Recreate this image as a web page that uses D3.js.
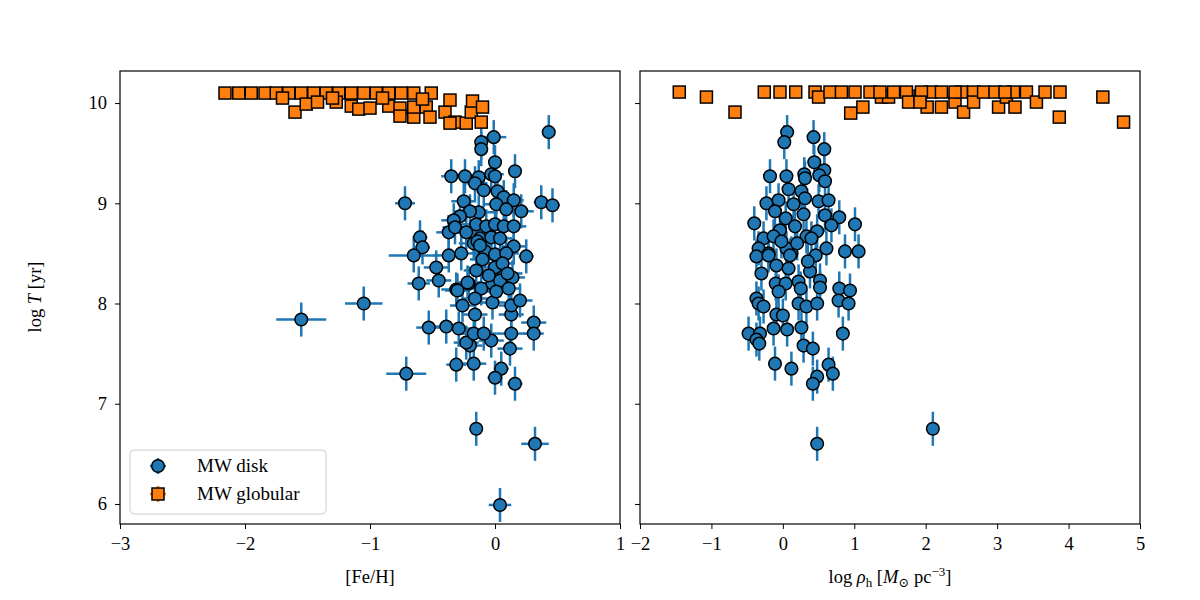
<!DOCTYPE html>
<html>
<head>
<meta charset="utf-8">
<script src="https://cdn.jsdelivr.net/npm/d3@7"></script>
<style>
  body { margin: 0; background: #fff; }
  text { font-family: "Liberation Serif", "DejaVu Serif", serif; }
</style>
</head>
<body>
<svg id="chart" width="1200" height="600"></svg>
<script>
// MW disk clusters: [Fe/H], log T, [Fe/H] error
var diskFeH = [
  [-1.55,7.84,0.2],[-1.05,8.00,0.15],[-0.71,7.30,0.16],[-0.72,9.00,0.08],
  [-0.61,8.20,0.09],[-0.45,8.23,0.1],[-0.53,7.76,0.1],[-0.39,7.77,0.1],
  [-0.29,7.75,0.1],[-0.31,7.39,0.08],[-0.17,7.40,0.1],[-0.20,7.58,0.1],
  [-0.23,7.61,0.1],[-0.03,7.63,0.1],[-0.16,7.89,0.1],[-0.17,7.70,0.12],
  [-0.09,7.70,0.1],[-0.26,7.98,0.1],[-0.31,8.14,0.12],[-0.21,8.20,0.1],
  [-0.11,8.15,0.1],[-0.02,8.01,0.1],[0.05,7.35,0.06],[0.00,7.26,0.06],
  [0.16,7.20,0.06],[0.12,7.55,0.1],[0.13,7.70,0.12],[0.13,7.89,0.1],
  [0.13,7.98,0.1],[0.20,8.03,0.1],[0.31,7.81,0.1],[0.31,7.70,0.08],
  [-0.15,6.75,0.04],[0.32,6.60,0.11],[0.04,5.99,0.09],[-0.02,8.20,0.1],
  [0.04,8.23,0.1],[0.14,8.26,0.1],[-0.16,8.05,0.1],[0.43,9.71,0.03],
  [-0.01,9.66,0.1],[-0.11,9.61,0.05],[-0.11,9.54,0.05],[0.00,9.41,0.05],
  [0.16,9.32,0.05],[-0.35,9.27,0.08],[-0.24,9.27,0.08],[-0.13,9.26,0.08],
  [-0.03,9.29,0.1],[0.00,9.27,0.05],[-0.16,9.20,0.1],[-0.09,9.13,0.08],
  [0.02,9.12,0.08],[-0.25,9.02,0.1],[0.07,9.06,0.08],[0.15,9.03,0.08],
  [0.37,9.01,0.06],[0.46,8.98,0.06],[0.01,8.99,0.1],[0.09,8.94,0.1],
  [-0.13,8.91,0.15],[-0.20,8.92,0.1],[-0.28,8.87,0.1],[0.21,8.92,0.1],
  [-0.33,8.83,0.1],[-0.37,8.71,0.1],[-0.32,8.76,0.1],[-0.23,8.71,0.1],
  [-0.15,8.79,0.12],[-0.07,8.77,0.1],[0.00,8.79,0.1],[0.07,8.77,0.1],
  [0.15,8.77,0.1],[-0.60,8.66,0.06],[-0.58,8.56,0.06],[-0.65,8.48,0.2],
  [-0.37,8.48,0.12],[-0.27,8.50,0.12],[-0.12,8.65,0.1],[-0.03,8.66,0.1],
  [0.04,8.65,0.1],[0.15,8.57,0.1],[0.25,8.47,0.06],[-0.17,8.60,0.12],
  [-0.08,8.52,0.1],[0.00,8.49,0.1],[0.09,8.50,0.1],[-0.47,8.36,0.1],
  [-0.15,8.33,0.1],[0.00,8.36,0.1],[-0.22,8.21,0.1],[-0.30,8.13,0.1],
  [0.01,8.12,0.1],[0.11,8.15,0.1],[-0.14,8.62,0.1],[-0.12,8.58,0.1],
  [-0.10,8.44,0.1],[0.06,8.40,0.1],[-0.05,8.28,0.1],[0.10,8.30,0.12]
];

// MW disk clusters: log rho_h, log T
var diskRho = [
  [0.06,9.71],[0.02,9.61],[0.43,9.66],[0.58,9.54],[0.44,9.41],[0.58,9.33],
  [-0.18,9.27],[0.05,9.27],[0.30,9.29],[0.31,9.25],[0.51,9.28],[0.59,9.22],
  [0.08,9.14],[0.26,9.12],[-0.23,9.00],[-0.06,9.03],[0.15,8.99],[0.31,9.05],
  [0.50,9.02],[0.64,9.03],[-0.11,8.92],[0.04,8.85],[0.29,8.89],[0.59,8.88],
  [0.79,8.86],[-0.40,8.80],[0.17,8.77],[0.68,8.78],[1.01,8.79],[-0.04,8.73],
  [0.33,8.67],[0.48,8.72],[-0.27,8.65],[-0.13,8.67],[-0.34,8.55],[-0.20,8.50],
  [0.12,8.50],[0.40,8.65],[0.61,8.55],[0.87,8.52],[1.06,8.52],[0.05,8.55],
  [-0.37,8.47],[-0.20,8.48],[0.10,8.48],[0.46,8.48],[-0.30,8.30],[-0.09,8.38],
  [0.08,8.35],[0.22,8.22],[0.38,8.32],[0.52,8.23],[0.52,8.16],[-0.10,8.20],
  [0.04,8.20],[0.25,8.15],[-0.06,8.12],[0.79,8.15],[0.94,8.13],[-0.37,8.05],
  [-0.34,8.00],[-0.27,7.97],[0.22,8.00],[0.33,7.97],[0.48,8.00],[0.78,8.03],
  [0.92,8.00],[-0.09,7.89],[0.00,7.88],[0.06,7.74],[-0.13,7.75],[0.26,7.76],
  [-0.48,7.70],[-0.32,7.70],[-0.37,7.64],[-0.33,7.60],[0.84,7.70],[0.29,7.58],
  [0.42,7.55],[-0.11,7.40],[0.12,7.35],[0.64,7.39],[0.70,7.30],[0.48,7.27],
  [0.42,7.20],[0.48,6.60],[2.10,6.75],[0.20,8.60],[0.35,8.42],[-0.02,8.62]
];

// MW globular clusters: [Fe/H], log T
var globFeH = [
  [-2.16,10.10],[-2.05,10.10],[-1.95,10.10],[-1.84,10.10],[-1.75,10.10],
  [-1.65,10.10],[-1.55,10.10],[-1.45,10.10],[-1.35,10.10],[-1.25,10.10],
  [-1.15,10.10],[-1.05,10.10],[-0.95,10.10],[-0.85,10.10],[-0.75,10.10],
  [-0.65,10.10],[-0.51,10.10],[-1.60,9.91],[-1.51,9.99],[-1.42,10.01],
  [-1.27,10.01],[-1.15,9.97],[-1.09,9.94],[-1.00,9.95],[-0.85,9.97],
  [-0.76,9.95],[-0.76,9.87],[-0.65,9.86],[-0.65,9.96],[-0.55,9.96],
  [-0.52,9.86],[-0.40,9.91],[-0.36,10.03],[-0.32,9.81],[-0.36,9.80],
  [-0.23,9.80],[-0.19,9.91],[-0.11,9.81],[-0.18,10.02],[-0.10,9.96],
  [-1.70,10.05],[-1.30,10.05],[-0.90,10.05],[-0.58,10.04]
];

// MW globular clusters: log rho_h, log T
var globRho = [
  [-1.45,10.11],[-1.07,10.06],[-0.67,9.91],[-0.26,10.11],[-0.04,10.11],
  [0.18,10.11],[0.45,10.11],[0.50,10.06],[0.66,10.11],[0.82,10.11],
  [1.01,10.11],[0.95,9.90],[1.12,9.96],[1.22,10.11],[1.38,10.06],
  [1.48,10.06],[1.55,10.11],[1.73,10.11],[1.76,10.01],[1.92,10.07],
  [2.02,9.96],[2.08,10.11],[2.22,10.11],[2.22,9.96],[2.41,10.01],
  [2.50,10.11],[2.53,9.91],[2.67,10.11],[2.67,10.01],[2.81,10.11],
  [2.97,10.11],[3.02,9.96],[3.13,10.06],[3.23,10.11],[3.25,9.96],
  [3.41,10.11],[3.55,10.01],[3.67,10.11],[3.88,10.11],[3.87,9.86],
  [4.48,10.06],[4.77,9.81],[1.36,10.11],[1.94,10.11],[2.41,10.11],
  [1.92,10.01],[3.11,10.11]
];

var xTicksL = [-3, -2, -1, 0, 1];
var xTicksR = [-2, -1, 0, 1, 2, 3, 4, 5];
var yTicks = [6, 7, 8, 9, 10];

var AGE_ERR = 0.17;
var BLUE = "#1f77b4", ORANGE = "#ff7f0e";

var svg = d3.select("#chart");

var y = d3.scaleLinear().domain([5.8, 10.32]).range([524, 71]);
var xL = d3.scaleLinear().domain([-3, 1]).range([120, 620]);
var xR = d3.scaleLinear().domain([-2, 5]).range([640, 1140]);

function fmt(d) { return d < 0 ? "\u2212" + Math.abs(d) : "" + d; }

function drawPanel(x, xticks, showYLabels, disk, glob, hasXErr) {
  var g = svg.append("g");

  // clip to the axes box
  var id = "clip" + Math.round(x.range()[0]);
  svg.append("clipPath").attr("id", id).append("rect")
     .attr("x", x.range()[0]).attr("y", 71)
     .attr("width", x.range()[1] - x.range()[0]).attr("height", 453);
  var plot = g.append("g").attr("clip-path", "url(#" + id + ")");

  // disk error bars
  var bars = plot.append("g").attr("stroke", BLUE).attr("stroke-width", 2.5);
  disk.forEach(function(d) {
    bars.append("line")
        .attr("x1", x(d[0])).attr("x2", x(d[0]))
        .attr("y1", y(d[1] - AGE_ERR)).attr("y2", y(d[1] + AGE_ERR));
    if (hasXErr) {
      bars.append("line")
          .attr("x1", x(d[0] - d[2])).attr("x2", x(d[0] + d[2]))
          .attr("y1", y(d[1])).attr("y2", y(d[1]));
    }
  });

  plot.append("g").selectAll("circle")
      .data(disk)
      .enter().append("circle")
      .attr("cx", function(d) { return x(d[0]); })
      .attr("cy", function(d) { return y(d[1]); })
      .attr("r", 6.3)
      .attr("fill", BLUE)
      .attr("stroke", "#000")
      .attr("stroke-width", 1.5);

  plot.append("g").selectAll("rect")
      .data(glob)
      .enter().append("rect")
      .attr("x", function(d) { return x(d[0]) - 6; })
      .attr("y", function(d) { return y(d[1]) - 6; })
      .attr("width", 12).attr("height", 12)
      .attr("fill", ORANGE)
      .attr("stroke", "#000")
      .attr("stroke-width", 1.5);

  // axes
  var xa = g.append("g")
      .attr("transform", "translate(0,524)")
      .call(d3.axisBottom(x).tickValues(xticks).tickFormat(fmt).tickSize(5).tickPadding(8));
  var ya = g.append("g")
      .attr("transform", "translate(" + x.range()[0] + ",0)")
      .call(d3.axisLeft(y).tickValues(yTicks).tickFormat(showYLabels ? fmt : "").tickSize(5).tickPadding(8));
  [xa, ya].forEach(function(a) {
    a.select(".domain").remove();
    a.selectAll("line").attr("stroke", "#000").attr("stroke-width", 1);
    a.selectAll("text").attr("fill", "#000").style("font-size", "18.5px")
      .style("font-family", "'Liberation Serif', serif");
  });

  g.append("rect")
   .attr("x", x.range()[0]).attr("y", 71)
   .attr("width", x.range()[1] - x.range()[0]).attr("height", 453)
   .attr("fill", "none").attr("stroke", "#000").attr("stroke-width", 1.2);

  return g;
}

drawPanel(xL, xTicksL, true, diskFeH, globFeH, true);
drawPanel(xR, xTicksR, false, diskRho, globRho, false);

// axis labels
svg.append("text").attr("x", 370).attr("y", 583)
   .attr("text-anchor", "middle").style("font-size", "18.5px").text("[Fe/H]");

var rl = svg.append("text").attr("x", 890).attr("y", 583)
   .attr("text-anchor", "middle").style("font-size", "18.5px");
rl.append("tspan").text("log ");
rl.append("tspan").style("font-style", "italic").text("\u03c1");
rl.append("tspan").attr("dy", 4).style("font-size", "13px").text("h");
rl.append("tspan").attr("dy", -4).text(" [");
rl.append("tspan").style("font-style", "italic").text("M");
rl.append("tspan").attr("dy", 4).style("font-size", "13px").text("\u2299");
rl.append("tspan").attr("dy", -4).text(" pc");
rl.append("tspan").attr("dy", -7).style("font-size", "13px").text("\u22123");
rl.append("tspan").attr("dy", 7).text("]");

var yl = svg.append("text")
   .attr("transform", "translate(41,297) rotate(-90)")
   .attr("text-anchor", "middle").style("font-size", "18.5px");
yl.append("tspan").text("log ");
yl.append("tspan").style("font-style", "italic").text("T");
yl.append("tspan").text(" [yr]");

// legend
var leg = svg.append("g");
leg.append("rect").attr("x", 130).attr("y", 450).attr("width", 196).attr("height", 64)
   .attr("rx", 4).attr("fill", "#fff").attr("fill-opacity", 0.8)
   .attr("stroke", "#ccc").attr("stroke-width", 1);
var legItems = [
  { label: "MW disk", color: BLUE, shape: "circle" },
  { label: "MW globular", color: ORANGE, shape: "square" }
];
legItems.forEach(function(it, i) {
  var cy = 466 + i * 28, cx = 158;
  leg.append("line").attr("x1", cx - 8).attr("x2", cx + 8).attr("y1", cy).attr("y2", cy)
     .attr("stroke", it.color).attr("stroke-width", 2.5);
  leg.append("line").attr("x1", cx).attr("x2", cx).attr("y1", cy - 8).attr("y2", cy + 8)
     .attr("stroke", it.color).attr("stroke-width", 2.5);
  if (it.shape === "circle") {
    leg.append("circle").attr("cx", cx).attr("cy", cy).attr("r", 6.3)
       .attr("fill", it.color).attr("stroke", "#000").attr("stroke-width", 1.5);
  } else {
    leg.append("rect").attr("x", cx - 6).attr("y", cy - 6).attr("width", 12).attr("height", 12)
       .attr("fill", it.color).attr("stroke", "#000").attr("stroke-width", 1.5);
  }
  leg.append("text").attr("x", 197).attr("y", cy + 6).style("font-size", "19px").text(it.label);
});
</script>
</body>
</html>
